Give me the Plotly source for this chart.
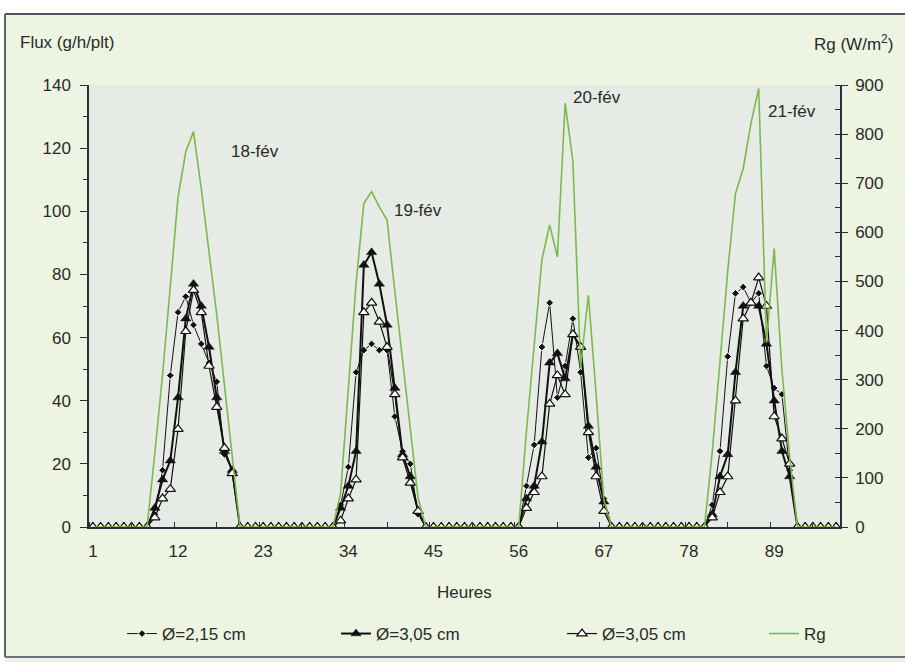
import plotly.graph_objects as go

# ---------------- data ----------------
hours = list(range(1, 98))
tick_labels = ["1", "12", "23", "34", "45", "56", "67", "78", "89"]
tick_hours = [1, 12, 23, 34, 45, 56, 67, 78, 89]

flux_215 = [0, 0, 0, 0, 0, 0, 0, 0,
            4, 18, 48, 68, 73, 64, 58, 52, 46, 23, 18,
            0, 0, 0, 0, 0, 0, 0, 0, 0, 0, 0, 0, 0,
            7, 19, 49, 56, 58, 56, 56, 35, 24, 20, 4,
            0, 0, 0, 0, 0, 0, 0, 0, 0, 0, 0, 0, 0,
            13, 26, 57, 71, 41, 51, 66, 49, 22, 25, 9,
            0, 0, 0, 0, 0, 0, 0, 0, 0, 0, 0, 0, 0,
            7, 24, 54, 74, 76, 71, 74, 51, 44, 42, 18,
            0, 0, 0, 0, 0, 0]

flux_305_a = [0, 0, 0, 0, 0, 0, 0, 0,
              6, 15, 21, 41, 66, 77, 70, 57, 41, 24, 18,
              0, 0, 0, 0, 0, 0, 0, 0, 0, 0, 0, 0, 0,
              6, 13, 24, 83, 87, 77, 64, 44, 23, 16, 5,
              0, 0, 0, 0, 0, 0, 0, 0, 0, 0, 0, 0, 0,
              9, 13, 27, 52, 55, 47, 61, 57, 32, 19, 8,
              0, 0, 0, 0, 0, 0, 0, 0, 0, 0, 0, 0, 0,
              4, 16, 23, 49, 70, 71, 70, 58, 40, 24, 16,
              0, 0, 0, 0, 0, 0]

flux_305_b = [0, 0, 0, 0, 0, 0, 0, 0,
              3, 9, 12, 31, 62, 75, 68, 51, 38, 25, 17,
              0, 0, 0, 0, 0, 0, 0, 0, 0, 0, 0, 0, 0,
              2, 9, 15, 68, 71, 65, 57, 42, 22, 14, 5,
              0, 0, 0, 0, 0, 0, 0, 0, 0, 0, 0, 0, 0,
              6, 11, 16, 39, 48, 42, 61, 57, 30, 16, 5,
              0, 0, 0, 0, 0, 0, 0, 0, 0, 0, 0, 0, 0,
              3, 11, 16, 40, 66, 71, 79, 70, 35, 28, 20,
              0, 0, 0, 0, 0, 0]

rg = [0, 0, 0, 0, 0, 0, 0, 0,
      150, 310, 490, 672, 764, 805, 689, 563, 432, 288, 144,
      0, 0, 0, 0, 0, 0, 0, 0, 0, 0, 0, 0, 0,
      69, 293, 497, 659, 683, 652, 625, 480, 340, 200, 60,
      0, 0, 0, 0, 0, 0, 0, 0, 0, 0, 0, 0, 0,
      195, 375, 545, 615, 550, 863, 745, 326, 472, 270, 55,
      0, 0, 0, 0, 0, 0, 0, 0, 0, 0, 0, 0, 0,
      153, 337, 521, 679, 730, 822, 893, 375, 567, 320, 143,
      0, 0, 0, 0, 0, 0]

day_labels = ["18-fév", "19-fév", "20-fév", "21-fév"]
day_label_x = [21.9, 43.0, 66.1, 91.3]
day_label_y = [118.8, 100.4, 136.2, 131.5]

# ---------------- styling ----------------
FONT = "Liberation Sans Narrow, Arial Narrow, Liberation Sans, Arial, sans-serif"
TXT = "#2a2a2a"
AX = "#2b2d3a"
OUTER_BG = "#edf4e2"
PLOT_BG = "#e6ebe5"
GREEN = "#7db84a"

W, H = 905, 662
L, R, T, B = 89, 840, 85, 527  # plot area in pixels


def px(x):
    return (x - L) / (R - L)


def py(y):
    return (B - y) / (B - T)


fig = go.Figure()

fig.add_trace(go.Scatter(
    x=hours, y=flux_215, name="Ø=2,15 cm", mode="lines+markers", legend="legend",
    line=dict(color="#111111", width=1),
    marker=dict(symbol="diamond", size=6, color="#111111",
                line=dict(color="white", width=1))))

fig.add_trace(go.Scatter(
    x=hours, y=flux_305_a, name="Ø=3,05 cm", mode="lines+markers", legend="legend2",
    line=dict(color="#111111", width=2),
    marker=dict(symbol="triangle-up", size=9, color="#111111",
                line=dict(color="#111111", width=0.5))))

fig.add_trace(go.Scatter(
    x=hours, y=flux_305_b, name="Ø=3,05 cm", mode="lines+markers", legend="legend3",
    line=dict(color="#111111", width=1.2),
    marker=dict(symbol="triangle-up", size=9, color="white",
                line=dict(color="#111111", width=1.2))))

fig.add_trace(go.Scatter(
    x=hours, y=rg, name="Rg", mode="lines", yaxis="y2", legend="legend4",
    line=dict(color=GREEN, width=1.6)))

# day labels
for t, xv, yv in zip(day_labels, day_label_x, day_label_y):
    fig.add_annotation(x=xv, y=yv, xref="x", yref="y", text=t,
                       showarrow=False, xanchor="center", yanchor="middle",
                       font=dict(size=17, color=TXT, family=FONT))

# axis titles as text
fig.add_annotation(x=px(18), y=py(43), xref="paper", yref="paper",
                   text="Flux (g/h/plt)", showarrow=False, xanchor="left", yanchor="middle",
                   font=dict(size=17, color=TXT, family=FONT))
fig.add_annotation(x=px(895), y=py(43), xref="paper", yref="paper",
                   text="Rg (W/m<sup>2</sup>)", showarrow=False, xanchor="right",
                   yanchor="middle", font=dict(size=17, color=TXT, family=FONT))
fig.add_annotation(x=0.5, y=py(592), xref="paper", yref="paper",
                   text="Heures", showarrow=False, xanchor="center", yanchor="middle",
                   font=dict(size=17, color=TXT, family=FONT))

# outer white margins and frame
shapes = [
    dict(type="rect", xref="paper", yref="paper", x0=px(-5), x1=px(910),
         y0=py(14), y1=py(-5), fillcolor="white", line=dict(width=0), layer="below"),
    dict(type="rect", xref="paper", yref="paper", x0=px(-5), x1=px(5),
         y0=py(667), y1=py(-5), fillcolor="white", line=dict(width=0), layer="below"),
    dict(type="line", xref="paper", yref="paper", x0=px(5), x1=px(910),
         y0=py(14), y1=py(14), line=dict(color="#4b5563", width=2)),
    dict(type="line", xref="paper", yref="paper", x0=px(5), x1=px(5),
         y0=py(14), y1=py(657), line=dict(color="#5a6470", width=2)),
    dict(type="line", xref="paper", yref="paper", x0=px(5), x1=px(910),
         y0=py(657), y1=py(657), line=dict(color="#6a7480", width=2)),
]

tickfont = dict(size=17, color=TXT, family=FONT)
legfont = dict(size=17, color=TXT, family=FONT)


def leg(xpix):
    return dict(orientation="h", x=px(xpix), xanchor="left", y=py(634), yanchor="middle",
                font=legfont, bgcolor="rgba(0,0,0,0)")


fig.update_layout(
    width=W, height=H,
    margin=dict(l=L, r=W - R, t=T, b=H - B, autoexpand=False),
    paper_bgcolor=OUTER_BG, plot_bgcolor=PLOT_BG,
    shapes=shapes,
    showlegend=True,
    legend=leg(122), legend2=leg(336), legend3=leg(562), legend4=leg(764),
    xaxis=dict(range=[0.5, 97.5], tickmode="array", tickvals=tick_hours, ticktext=tick_labels,
               ticks="", showline=True, linecolor=AX, linewidth=1.5, showgrid=False,
               zeroline=False, tickfont=tickfont, ticklabelstandoff=8,
               minor=dict(tickmode="linear", tick0=0.5, dtick=5.5, ticks="inside",
                          ticklen=5, tickcolor=AX, tickwidth=1.3)),
    yaxis=dict(range=[0, 140], dtick=20, ticks="outside", ticklen=7, tickwidth=1.3,
               tickcolor=AX, showline=True, linecolor=AX, linewidth=1.5, showgrid=False,
               zeroline=False, tickfont=tickfont, ticklabelstandoff=6,
               minor=dict(dtick=10, ticks="outside", ticklen=4, tickcolor=AX, tickwidth=1.2)),
    yaxis2=dict(range=[0, 900], dtick=100, overlaying="y", side="right", ticks="outside",
                ticklen=6, tickwidth=1.3, tickcolor=AX, showline=True, linecolor=AX,
                linewidth=1.5, showgrid=False, zeroline=False, tickfont=tickfont,
                ticklabelstandoff=4,
                minor=dict(dtick=50, ticks="inside", ticklen=5, tickcolor=AX, tickwidth=1.2)),
    yaxis3=dict(range=[0, 900], dtick=100, overlaying="y", side="right", ticks="inside",
                ticklen=6, tickwidth=1.3, tickcolor=AX, showline=False, showgrid=False,
                zeroline=False, showticklabels=False),
    hovermode=False,
)

fig.write_html("out.html")
